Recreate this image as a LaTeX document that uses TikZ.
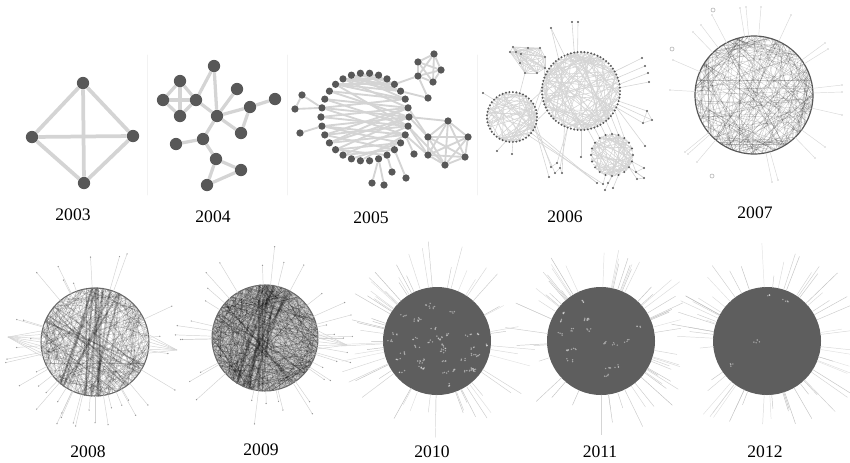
\documentclass[tikz,border=0pt]{standalone}
\usepackage{fontspec}
\setmainfont{Liberation Serif}
\usetikzlibrary{calc, backgrounds}
\tikzset{x=0.03cm, y=-0.03cm}
\definecolor{nodegray}{RGB}{88,88,88}
\definecolor{edgegray}{RGB}{212,212,212}
\definecolor{ballgray}{RGB}{94,94,94}

\begin{document}
\begin{tikzpicture}
% Style
[
    line cap=round,
    big vertex/.style={circle, fill=nodegray, inner sep=0pt, minimum size=10.5pt},
    mid vertex/.style={circle, fill=nodegray, inner sep=0pt, minimum size=6.2pt},
    dot vertex/.style={circle, fill=nodegray, inner sep=0pt, minimum size=1.9pt},
    ring mark/.style={circle, draw=gray!70, inner sep=0pt, minimum size=3.5pt},
    tip dot/.style={circle, fill=gray!80, inner sep=0pt, minimum size=1.2pt},
    thick edge/.style={draw=edgegray, line width=3.2pt},
    mid edge/.style={draw=edgegray, line width=1.6pt},
    thin edge/.style={draw=edgegray, line width=0.5pt},
    spoke/.style={draw=gray!45, line width=0.4pt},
    chord/.style={draw=black, line width=0.3pt, opacity=0.16},
    bundle/.style={draw=black, line width=1.6pt, opacity=0.22},
    ball/.style={circle, inner sep=0pt, outer sep=0pt},
    year/.style={font=\fontsize{15}{18}\selectfont}
]

%=================================== Start ===================================
{
    \useasboundingbox (0,0) rectangle (850,462);

    % Define: faint panel borders
    \foreach \sx in {147,287,477} {
        \draw[gray!10, line width=0.6pt] (\sx,55) -- (\sx,195);
    }

    % Draw: 2003
    \node[big vertex] (a1) at (83,83) {};
    \node[big vertex] (a2) at (32,137) {};
    \node[big vertex] (a3) at (133,136) {};
    \node[big vertex] (a4) at (84,183) {};
    \begin{scope}[on background layer]
        \foreach \u/\v in {a1/a2,a1/a3,a1/a4,a2/a3,a2/a4,a3/a4} {
            \draw[thick edge] (\u) -- (\v);
        }
    \end{scope}
    \node[year] (y2003) at (73,215) {2003};

    % Draw: 2004
    \foreach \px/\py [count=\n] in {214/66,180/81,163/100,196/100,180/116,237/89,217/116,
        250/107,275/99,241/133,203/139,176/144,216/159,241/170,207/185} {
        \node[big vertex] (b\n) at (\px,\py) {};
    }
    \begin{scope}[on background layer]
        \foreach \u/\v in {b2/b3,b2/b5,b2/b4,b3/b4,b3/b5,b4/b5,b4/b1,b1/b7,b4/b7,b7/b6,
            b7/b8,b8/b9,b8/b10,b7/b10,b7/b11,b11/b12,b11/b13,b13/b14,b14/b15,b13/b15} {
            \draw[thick edge, line width=2.8pt] (\u) -- (\v);
        }
    \end{scope}
    \node[year] (y2004) at (213,217) {2004};

    % Draw: 2005
    \coordinate (c2005) at (365,117);
    \foreach \k in {0,...,29} {
        \node[mid vertex] (r\k) at ($(c2005)+(\k*12:44)$) {};
    }
    \foreach \px/\py [count=\n] in {302/95,295/109,300/133,372/183,384/185,392/172,406/178,414/154,428/98} {
        \node[mid vertex] (o\n) at (\px,\py) {};
    }
    \foreach \px/\py [count=\n] in {434/54,418/62,441/70,418/76,433/82} {
        \node[mid vertex] (t\n) at (\px,\py) {};
    }
    \foreach \px/\py [count=\n] in {448/121,428/137,468/137,428/155,465/157,445/165} {
        \node[mid vertex] (q\n) at (\px,\py) {};
    }
    \begin{scope}[on background layer]
        \foreach \u/\v in {r0/r14,r0/r16,r0/r18,r0/r11,r1/r13,r1/r15,r1/r17,r1/r19,r1/r10,
            r2/r12,r2/r14,r2/r16,r2/r8,r29/r13,r29/r15,r29/r17,r29/r20,r28/r16,r28/r18,
            r28/r21,r27/r19,r27/r21,r27/r22,r26/r20,r26/r22,r3/r11,r3/r14,r3/r9,r4/r10,
            r4/r13,r5/r11,r25/r21,r26/r23,r26/r19,r25/r20,r27/r20,r28/r19,r0/r12,r29/r12,
            o1/r16,o2/r16,o1/o2,o3/r14,o4/r6,o5/r6,o6/r5,o7/r4,o8/r2,o9/r27,o9/t4,t4/r26,
            q1/r0,q2/r0,q4/r1,q6/r1,q2/r29,q4/r2} {
            \draw[mid edge] (\u) -- (\v);
        }
        \foreach \i in {1,...,5} {
            \foreach \j in {1,...,5} {
                \ifnum\j>\i \draw[mid edge] (t\i) -- (t\j); \fi
            }
        }
        \foreach \i in {1,...,6} {
            \foreach \j in {1,...,6} {
                \ifnum\j>\i \draw[mid edge] (q\i) -- (q\j); \fi
            }
        }
    \end{scope}
    \node[year] (y2005) at (371,218) {2005};

    % Draw: 2006
    \coordinate (c2006a) at (581,91);
    \coordinate (c2006b) at (512,117);
    \coordinate (c2006c) at (612,155);
    \pgfmathsetseed{2006}
    \foreach \i in {1,...,120} {
        \pgfmathsetmacro\a{360*rnd}
        \pgfmathsetmacro\b{\a+50+260*rnd}
        \draw[thin edge] ($(c2006a)+(\a:39)$) -- ($(c2006a)+(\b:39)$);
    }
    \foreach \i in {1,...,70} {
        \pgfmathsetmacro\a{360*rnd}
        \pgfmathsetmacro\b{\a+40+280*rnd}
        \draw[thin edge] ($(c2006b)+(\a:25)$) -- ($(c2006b)+(\b:25)$);
    }
    \foreach \i in {1,...,70} {
        \pgfmathsetmacro\a{360*rnd}
        \pgfmathsetmacro\b{\a+40+280*rnd}
        \draw[thin edge] ($(c2006c)+(\a:21)$) -- ($(c2006c)+(\b:21)$);
    }
    \foreach \k in {0,...,71} {
        \node[dot vertex] (ra\k) at ($(c2006a)+(\k*5:39)$) {};
    }
    \foreach \k in {0,...,44} {
        \node[dot vertex] (rb\k) at ($(c2006b)+(\k*8:25)$) {};
    }
    \foreach \k in {0,...,19} {
        \node[dot vertex] (rc\k) at ($(c2006c)+(\k*18:21)$) {};
    }
    \foreach \px/\py [count=\n] in {513/47,510/52,516/52,528/48,540/48,521/54,545/57,520/63,525/73,537/73,545/68} {
        \node[dot vertex] (d\n) at (\px,\py) {};
    }
    \foreach \px/\py/\t [count=\n] in {551/28/ra49,572/22/ra52,578/22/ra53,642/58/ra66,645/66/ra68,
        648/73/ra70,649/82/ra71,647/111/ra3,652/120/ra4,643/123/ra5,645/146/ra5,581/157/ra18,
        636/172/rc1,644/168/rc1,637/179/rc2,644/178/rc2,557/163/ra22,551/167/rb2,560/168/ra22,
        555/173/rb3,549/177/rb3,562/173/ra23,597/183/rb5,603/184/rc6,608/183/rc5,605/190/rc5,
        613/188/rc4,483/93/rb28,497/151/rb13,512/154/rb11} {
        \node[dot vertex] (p\n) at (\px,\py) {};
        \begin{scope}[on background layer]
            \draw[thin edge] (p\n) -- (\t);
        \end{scope}
    }
    \begin{scope}[on background layer]
        \foreach \u/\v in {rb40/ra36,rb42/ra38,rb44/ra34,rb1/ra30,ra10/rc15,ra12/rc14,ra14/rc13,
            ra8/rc16,ra16/rc12,ra6/rc17,rb4/p23,rb6/p24,p8/p9,p9/p10,p8/p10,p13/p14,p15/p16,
            p13/p16,p17/p18,p19/p20,p22/p19,d7/ra40,d11/ra42,d9/rb36,p1/ra47} {
            \draw[thin edge] (\u) -- (\v);
        }
        \foreach \i in {1,...,11} {
            \foreach \j in {1,...,11} {
                \ifnum\j>\i \draw[thin edge] (d\i) -- (d\j); \fi
            }
        }
    \end{scope}
    \node[year] (y2006) at (565,217) {2006};

    % Draw: 2007
    \node[ball, minimum size=3.54cm, fill=white] (ball2007) at (754,95) {};
    \pgfmathsetseed{2007}
    \foreach \i in {1,...,210} {
        \pgfmathtruncatemacro\a{360*rnd}
        \pgfmathtruncatemacro\b{mod(\a+50+260*rnd,360)}
        \draw[chord, opacity=0.2] (ball2007.\a) -- (ball2007.\b);
    }
    \draw[nodegray, line width=1pt] (ball2007) circle [radius=59];
    \foreach \px/\py [count=\n] in {740/8,746/7,761/7,791/15,712/15,693/32,701/25,673/60,825/43,
        828/49,842/85,842/92,842/115,825/147,815/158,778/180,772/182,697/162,685/152,688/154,670/90} {
        \node[tip dot] (s\n) at (\px,\py) {};
        \draw[spoke, draw=gray!30] (ball2007) -- (s\n);
    }
    \node[ring mark] (m1) at (672,49) {};
    \node[ring mark] (m2) at (713,10) {};
    \node[ring mark] (m3) at (712,176) {};
    \node[year] (y2007) at (755,213) {2007};

    % Draw: 2008 and 2009
    \foreach \yr/\cx/\cy/\r/\n/\fc/\op in {2008/95/342/54/280/white/0.18, 2009/265/338/53/340/gray!35/0.22} {
        \node[ball, minimum size=2*\r*0.03cm, fill=\fc] (ball\yr) at (\cx,\cy) {};
        \pgfmathsetseed{\yr}
        \foreach \i in {1,...,\n} {
            \pgfmathtruncatemacro\a{360*rnd}
            \pgfmathtruncatemacro\b{mod(\a+50+260*rnd,360)}
            \draw[chord, opacity=\op] (ball\yr.\a) -- (ball\yr.\b);
        }
        \foreach \i in {1,...,14} {
            \pgfmathtruncatemacro\a{60+40*rnd}
            \pgfmathtruncatemacro\b{230+50*rnd}
            \draw[bundle] (ball\yr.\a) -- (ball\yr.\b);
        }
        \foreach \i in {1,...,6} {
            \pgfmathtruncatemacro\a{130+30*rnd}
            \pgfmathtruncatemacro\b{300+40*rnd}
            \draw[bundle, line width=1pt] (ball\yr.\a) -- (ball\yr.\b);
        }
        \draw[nodegray!90, line width=0.9pt] (ball\yr) circle [radius=\r];
        \foreach \j in {1,...,36} {
            \pgfmathtruncatemacro\a{360*rnd}
            \pgfmathsetmacro\l{8+32*rnd}
            \draw[spoke, draw=gray!35] (ball\yr.\a) -- ++(-\a:\l) node[tip dot] {};
        }
    }
    \coordinate (tuft2008L) at (8,337);
    \coordinate (tuft2008R) at (177,350);
    \coordinate (tuft2009R) at (347,345);
    \foreach \a in {168,172,...,196} {
        \draw[spoke, draw=gray!35] (ball2008.\a) -- (tuft2008L);
    }
    \foreach \a in {-12,-8,...,8} {
        \draw[spoke, draw=gray!35] (ball2008.\a) -- (tuft2008R);
        \draw[spoke, draw=gray!35] (ball2009.\a) -- (tuft2009R);
    }
    \node[year] (y2008) at (88,452) {2008};
    \node[year] (y2009) at (261,450) {2009};

    % Draw: 2010, 2011 and 2012
    \foreach \yr/\cx/\n in {2010/437/40, 2011/601/18, 2012/767/4} {
        \node[ball, minimum size=3.24cm, fill=ballgray] (ball\yr) at (\cx,341) {};
        \pgfmathsetseed{\yr}
        \foreach \j in {1,...,60} {
            \pgfmathtruncatemacro\a{360*rnd}
            \pgfmathsetmacro\l{10+36*rnd}
            \pgfmathsetmacro\g{22+28*rnd}
            \draw[spoke, draw=gray!\g] (ball\yr.\a) -- ++(-\a:\l);
        }
        % specks come in small clumps
        \foreach \j in {1,...,\n} {
            \pgfmathsetmacro\a{360*rnd}
            \pgfmathsetmacro\rr{48*sqrt(rnd)}
            \foreach \s in {1,...,4} {
                \pgfmathsetmacro\dx{6*rnd-3}
                \pgfmathsetmacro\dy{3*rnd-1.5}
                \fill[white, opacity=0.45] ($(ball\yr)+(\a:\rr)+(\dx,\dy)$) circle [radius=0.8];
            }
        }
    }
    \node[year] (y2010) at (432,452) {2010};
    \node[year] (y2011) at (600,452) {2011};
    \node[year] (y2012) at (765,452) {2012};
}
%==================================== END ====================================

\end{tikzpicture}
\end{document}
